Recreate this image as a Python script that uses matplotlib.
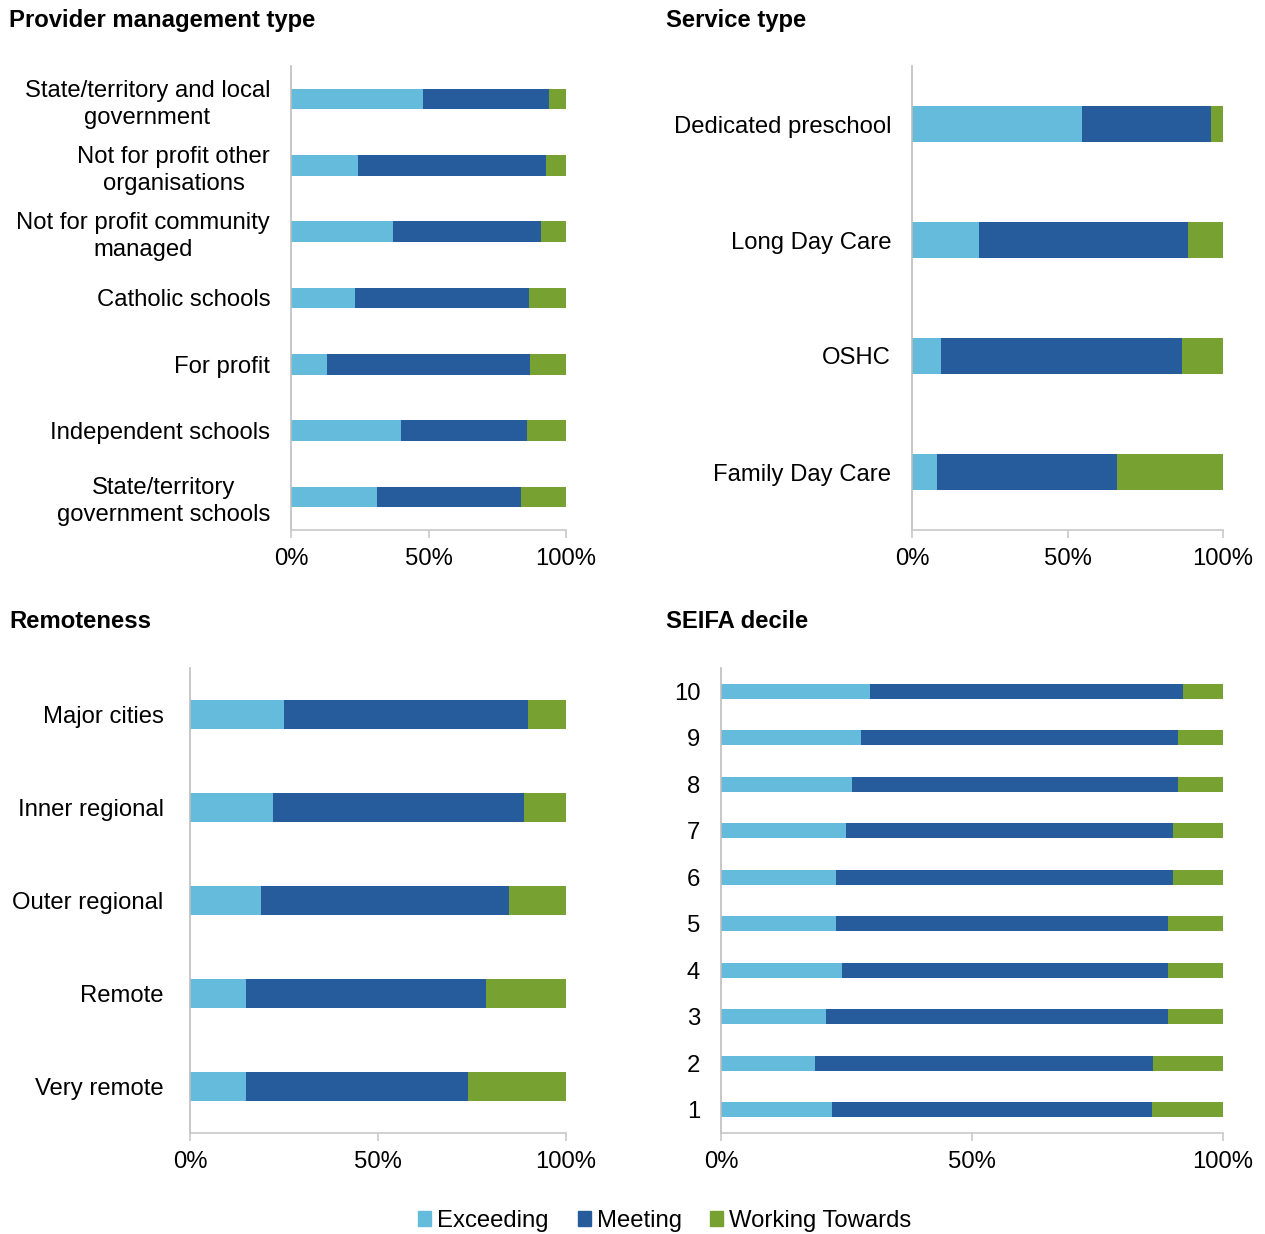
import matplotlib
matplotlib.use("Agg")
import matplotlib.pyplot as plt
from matplotlib.patches import Patch

plt.rcParams["font.family"] = ["Liberation Sans", "DejaVu Sans"]

# Colours
C_EXC = "#64BBDB"
C_MEET = "#265C9B"
C_WT = "#77A232"
SPINE = "#c8c8c8"
FS = 17.2

SERIES = ["Exceeding", "Meeting", "Working Towards"]

# ---- data (percent of services), top-to-bottom order ----
provider_labels = [
    "State/territory and local\ngovernment",
    "Not for profit other\norganisations",
    "Not for profit community\nmanaged",
    "Catholic schools",
    "For profit",
    "Independent schools",
    "State/territory\ngovernment schools",
]
provider_exceeding = [48.0, 24.4, 37.1, 23.3, 13.1, 40.0, 31.3]
provider_meeting = [45.8, 68.3, 53.8, 63.2, 73.8, 45.8, 52.3]
provider_working = [6.2, 7.3, 9.1, 13.5, 13.1, 14.2, 16.4]

service_labels = ["Dedicated preschool", "Long Day Care", "OSHC", "Family Day Care"]
service_exceeding = [54.7, 21.5, 9.3, 8.0]
service_meeting = [41.4, 67.2, 77.5, 57.9]
service_working = [3.9, 11.3, 13.2, 34.1]

remote_labels = ["Major cities", "Inner regional", "Outer regional", "Remote", "Very remote"]
remote_exceeding = [25.0, 22.1, 18.9, 14.9, 14.9]
remote_meeting = [64.9, 66.7, 65.9, 63.8, 59.0]
remote_working = [10.1, 11.2, 15.2, 21.3, 26.1]

seifa_labels = ["10", "9", "8", "7", "6", "5", "4", "3", "2", "1"]
seifa_exceeding = [29.7, 27.9, 26.1, 24.9, 22.9, 22.9, 24.1, 20.9, 18.7, 22.1]
seifa_meeting = [62.3, 63.1, 64.9, 65.1, 67.1, 66.1, 64.9, 68.1, 67.4, 63.8]
seifa_working = [8.0, 9.0, 9.0, 10.0, 10.0, 11.0, 11.0, 11.0, 13.9, 14.1]


def stacked_panel(ax, labels, exc, meet, wt, bar_h, title, title_xy, ypad):
    ypos = list(range(len(labels)))
    left2 = [a + b for a, b in zip(exc, meet)]
    ax.barh(ypos, exc, height=bar_h, color=C_EXC)
    ax.barh(ypos, meet, left=exc, height=bar_h, color=C_MEET)
    ax.barh(ypos, wt, left=left2, height=bar_h, color=C_WT)
    ax.set_yticks(ypos)
    ax.set_yticklabels(labels, fontsize=FS, linespacing=1.3,
                       ha="right", multialignment="center")
    ax.set_ylim(len(labels) - 0.5, -0.5)
    ax.set_xlim(0, 100)
    ax.set_xticks([0, 50, 100])
    ax.set_xticklabels(["0%", "50%", "100%"], fontsize=FS)
    for s in ("top", "right"):
        ax.spines[s].set_visible(False)
    ax.spines["left"].set_color("#bdbdbd")
    ax.spines["bottom"].set_color(SPINE)
    ax.spines["left"].set_linewidth(1.2)
    ax.spines["bottom"].set_linewidth(1.2)
    ax.tick_params(axis="y", length=0, pad=ypad)
    ax.tick_params(axis="x", length=6, color=SPINE, width=1.2, pad=7)
    ax.figure.text(title_xy[0], title_xy[1], title, fontsize=FS,
                   fontweight="bold", ha="left", va="center")
    return ax


fig = plt.figure(figsize=(12.65, 12.34), dpi=100)
W, H = 1265, 1234


def axes_px(x0, y0, x1, y1):
    return fig.add_axes([x0 / W, 1 - y1 / H, (x1 - x0) / W, (y1 - y0) / H])


ax1 = axes_px(291, 66, 566, 530)
stacked_panel(ax1, provider_labels, provider_exceeding, provider_meeting,
              provider_working, 0.31, "Provider management type",
              (9 / W, 1 - 20 / H), 15)
ax2 = axes_px(912, 66, 1223, 530)
stacked_panel(ax2, service_labels, service_exceeding, service_meeting,
              service_working, 0.31, "Service type", (666 / W, 1 - 20 / H), 15)
ax3 = axes_px(190, 668, 566, 1133)
stacked_panel(ax3, remote_labels, remote_exceeding, remote_meeting,
              remote_working, 0.31, "Remoteness", (9 / W, 1 - 622 / H), 19)
ax4 = axes_px(721, 668, 1223, 1133)
stacked_panel(ax4, seifa_labels, seifa_exceeding, seifa_meeting,
              seifa_working, 0.33, "SEIFA decile", (666 / W, 1 - 622 / H), 15)

handles = [Patch(color=c) for c in (C_EXC, C_MEET, C_WT)]
fig.legend(handles, SERIES, loc="center", bbox_to_anchor=(665 / W, 1 - 1221 / H),
           ncol=3, frameon=False, fontsize=FS, handlelength=0.55, handleheight=0.55,
           handletextpad=0.25, columnspacing=1.2)

fig.savefig("out.png", dpi=100)
